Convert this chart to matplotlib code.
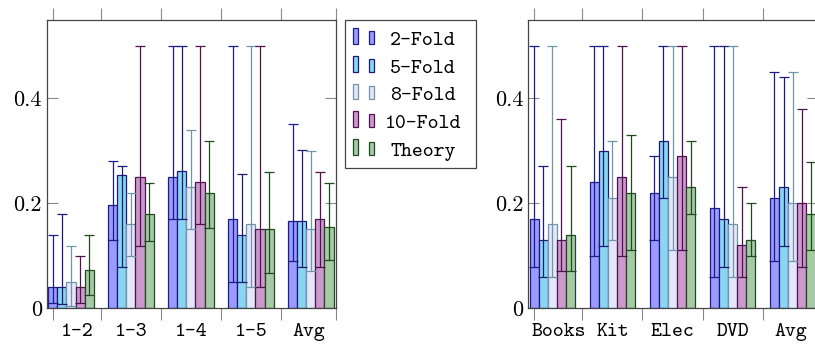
import matplotlib
matplotlib.use('Agg')
import matplotlib.pyplot as plt
import numpy as np
from matplotlib.patches import Rectangle

series = ['2-Fold', '5-Fold', '8-Fold', '10-Fold', 'Theory']
fills = ['#9a9aff', '#8ad6f2', '#e6e6fa', '#cc99cc', '#a6c9a6']
edges = ['#1c1c8a', '#1a1a78', '#6e96a8', '#4e124e', '#1e4a1e']

# left panel: rows = series, cols = categories
left_cats = ['1-2', '1-3', '1-4', '1-5', 'Avg']
left_mean = [
    [0.040, 0.196, 0.250, 0.170, 0.166],
    [0.040, 0.254, 0.262, 0.140, 0.166],
    [0.050, 0.160, 0.230, 0.160, 0.150],
    [0.040, 0.250, 0.240, 0.150, 0.170],
    [0.072, 0.179, 0.219, 0.150, 0.154],
]
left_lo = [
    [0.010, 0.130, 0.170, 0.050, 0.089],
    [0.008, 0.079, 0.170, 0.050, 0.079],
    [0.004, 0.100, 0.150, 0.040, 0.070],
    [0.010, 0.119, 0.160, 0.040, 0.079],
    [0.025, 0.127, 0.152, 0.067, 0.092],
]
left_hi = [
    [0.140, 0.280, 0.500, 0.500, 0.350],
    [0.180, 0.270, 0.500, 0.255, 0.302],
    [0.119, 0.220, 0.340, 0.500, 0.300],
    [0.100, 0.500, 0.500, 0.500, 0.260],
    [0.140, 0.239, 0.319, 0.260, 0.239],
]

# right panel
right_cats = ['Books', 'Kit', 'Elec', 'DVD', 'Avg']
right_mean = [
    [0.170, 0.240, 0.220, 0.190, 0.210],
    [0.130, 0.300, 0.319, 0.170, 0.230],
    [0.160, 0.210, 0.250, 0.160, 0.200],
    [0.130, 0.250, 0.290, 0.120, 0.200],
    [0.140, 0.220, 0.230, 0.130, 0.180],
]
right_lo = [
    [0.079, 0.100, 0.130, 0.060, 0.089],
    [0.060, 0.119, 0.210, 0.079, 0.119],
    [0.060, 0.130, 0.110, 0.060, 0.089],
    [0.070, 0.100, 0.110, 0.060, 0.079],
    [0.070, 0.110, 0.180, 0.100, 0.110],
]
right_hi = [
    [0.500, 0.500, 0.290, 0.500, 0.450],
    [0.270, 0.500, 0.500, 0.500, 0.440],
    [0.500, 0.319, 0.500, 0.500, 0.450],
    [0.360, 0.500, 0.500, 0.230, 0.380],
    [0.270, 0.330, 0.319, 0.200, 0.279],
]

W, H = 815, 345
fig = plt.figure(figsize=(W / 100, H / 100), dpi=100)

bw = 0.152
tick_pos = [-0.3, 0.5, 1.5, 2.5, 3.5, 4.42]
label_pos = [0.1, 1.0, 2.0, 3.0, 3.96]
frame_col = '#444444'


def panel(ax, cats, mean, lo, hi):
    x = np.arange(len(cats))
    for j in range(len(series)):
        m = np.array(mean[j])
        l = np.array(lo[j])
        h = np.array(hi[j])
        xs = x + (j - 2) * bw
        ax.bar(xs, m, bw, color=fills[j], edgecolor=edges[j], lw=0.9, zorder=2)
        ax.errorbar(xs, m, yerr=[m - l, h - m], fmt='none', ecolor=edges[j],
                    elinewidth=0.9, capsize=3.4, capthick=0.9, zorder=3)
    ax.set_xlim(-0.4, 4.42)
    ax.set_ylim(0, 0.55)
    ax.set_xticks(tick_pos)
    ax.set_xticklabels([])
    ax.set_xticks(label_pos, minor=True)
    ax.set_xticklabels(cats, minor=True, fontfamily='cmtt10', fontsize=15)
    ax.tick_params(axis='x', which='major', direction='out', length=8.5,
                   top=True, bottom=True, color='#888888', width=0.8)
    ax.tick_params(axis='x', which='minor', length=0, pad=11)
    ax.set_yticks([0, 0.2, 0.4])
    ax.set_yticklabels(['0', '0.2', '0.4'], fontfamily='cmr10', fontsize=16)
    ax.tick_params(axis='y', direction='in', length=8, left=True, right=True,
                   pad=3.6, color='#888888', width=0.8)
    for s in ax.spines.values():
        s.set_color(frame_col)
        s.set_linewidth(0.9)


ax1 = fig.add_axes([47 / W, (H - 308) / H, 289 / W, 288.5 / H])
panel(ax1, left_cats, left_mean, left_lo, left_hi)
ax2 = fig.add_axes([528.3 / W, (H - 308) / H, 289.7 / W, 288.5 / H])
panel(ax2, right_cats, right_mean, right_lo, right_hi)


# legend drawn by hand (two little bars + centred typewriter text)
def fx(px):
    return px / W


def fy(py):
    return (H - py) / H


fig.add_artist(Rectangle((fx(345), fy(168)), 131 / W, 148 / H, transform=fig.transFigure,
                         fill=False, ec=frame_col, lw=0.9))
for i, name in enumerate(series):
    base = 44 + 27.7 * i
    fig.add_artist(Rectangle((fx(353.3), fy(base)), 5 / W, 15.7 / H, transform=fig.transFigure,
                             fc=fills[i], ec=edges[i], lw=0.9))
    fig.add_artist(Rectangle((fx(369.3), fy(base)), 5 / W, 13 / H, transform=fig.transFigure,
                             fc=fills[i], ec=edges[i], lw=0.9))
    fig.text(fx(423), fy(base + 1), name, ha='center', va='baseline',
             fontfamily='cmtt10', fontsize=15)

fig.savefig('out.png', dpi=100)
